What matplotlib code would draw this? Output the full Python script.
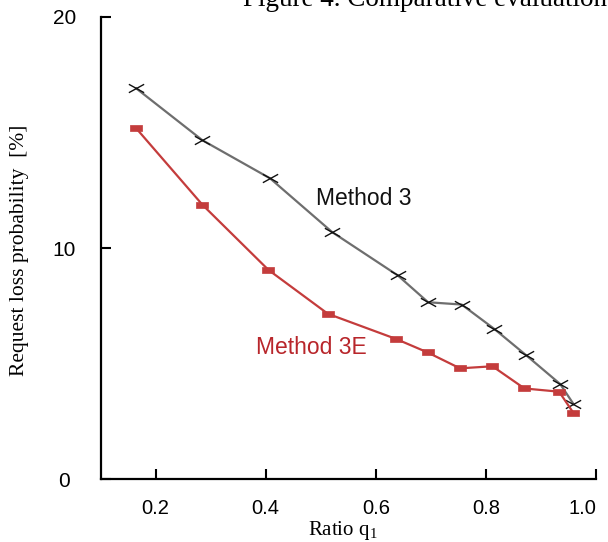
import matplotlib
matplotlib.use("Agg")
import matplotlib.pyplot as plt
from matplotlib.path import Path

# Data
q_m3 = [0.165, 0.285, 0.408, 0.521, 0.640, 0.695, 0.756, 0.815, 0.872, 0.935, 0.959]
loss_m3 = [16.91, 14.67, 13.02, 10.69, 8.82, 7.66, 7.56, 6.51, 5.39, 4.12, 3.26]
q_m3e = [0.165, 0.285, 0.405, 0.513, 0.637, 0.694, 0.753, 0.812, 0.870, 0.933, 0.959]
loss_m3e = [15.18, 11.88, 9.06, 7.16, 6.07, 5.49, 4.80, 4.89, 3.93, 3.79, 2.87]
xticks = [0.2, 0.4, 0.6, 0.8, 1.0]
xticklabels = ["0.2", "0.4", "0.6", "0.8", "1.0"]
yticks = [0, 10, 20]
yticklabels = ["0", "10", "20"]

plt.rcParams['mathtext.fontset'] = 'custom'
plt.rcParams['mathtext.rm'] = 'Liberation Serif'

fig = plt.figure(figsize=(6.08, 5.42), dpi=100)
ax = fig.add_axes([100.5/608, 1-479.3/542, (596-100.5)/608, (479.3-17)/542])

xmark = Path([(-1, -0.55), (1, 0.55), (-1, 0.55), (1, -0.55)],
             [Path.MOVETO, Path.LINETO, Path.MOVETO, Path.LINETO])
rmark = Path([(-1, -0.6), (1, -0.6), (1, 0.6), (-1, 0.6), (-1, -0.6)],
             [Path.MOVETO, Path.LINETO, Path.LINETO, Path.LINETO, Path.CLOSEPOLY])

ax.plot(q_m3, loss_m3, color='#6e6e6e', lw=1.6, marker=xmark, markersize=11,
        markeredgecolor='#111111', markeredgewidth=1.0, zorder=3)
ax.plot(q_m3e, loss_m3e, color='#c43c3c', lw=1.6, marker=rmark, markersize=8,
        markerfacecolor='#c43c3c', markeredgecolor='#c43c3c', markeredgewidth=0.5, zorder=3)

ax.set_xlim(0.1, 1.0)
ax.set_ylim(0, 20)
ax.set_xticks(xticks)
ax.set_xticklabels(xticklabels, fontsize=14.5, family='Liberation Sans')
ax.set_yticks(yticks)
ax.set_yticklabels(yticklabels, fontsize=15, family='Liberation Sans')
for lab in ax.get_yticklabels():
    lab.set_ha('center')
ax.get_xticklabels()[-1].set_ha('right')
ax.get_xticklabels()[-1].set_x(1.0)
ax.tick_params(axis='x', direction='in', length=7, width=1.5, pad=14)
ax.tick_params(axis='y', direction='in', length=7, width=1.5, pad=26)

for s in ['top', 'right']:
    ax.spines[s].set_visible(False)
for s in ['left', 'bottom']:
    ax.spines[s].set_linewidth(1.6)

ax.text(0.579, 12.15, "Method 3", fontsize=16.5, family='Liberation Sans', color='#111111',
        ha='center', va='center')
ax.text(0.483, 5.71, "Method 3E", fontsize=16.5, family='Liberation Sans', color='#b8262b',
        ha='center', va='center')

fig.text(343/608, 1-530/542, "Ratio q$_\\mathregular{1}$", fontsize=15, family='Liberation Serif',
         ha='center', va='center')
fig.text(20/608, 1-250/542, "Request loss probability  [%]", fontsize=15.5, family='Liberation Serif',
         rotation=90, ha='center', va='center')
fig.text(243/608, 1-6.5/542, "Figure 4. Comparative evaluation", fontsize=19.5,
         family='Liberation Serif', ha='left', va='baseline')

fig.savefig("out.png", dpi=100)
